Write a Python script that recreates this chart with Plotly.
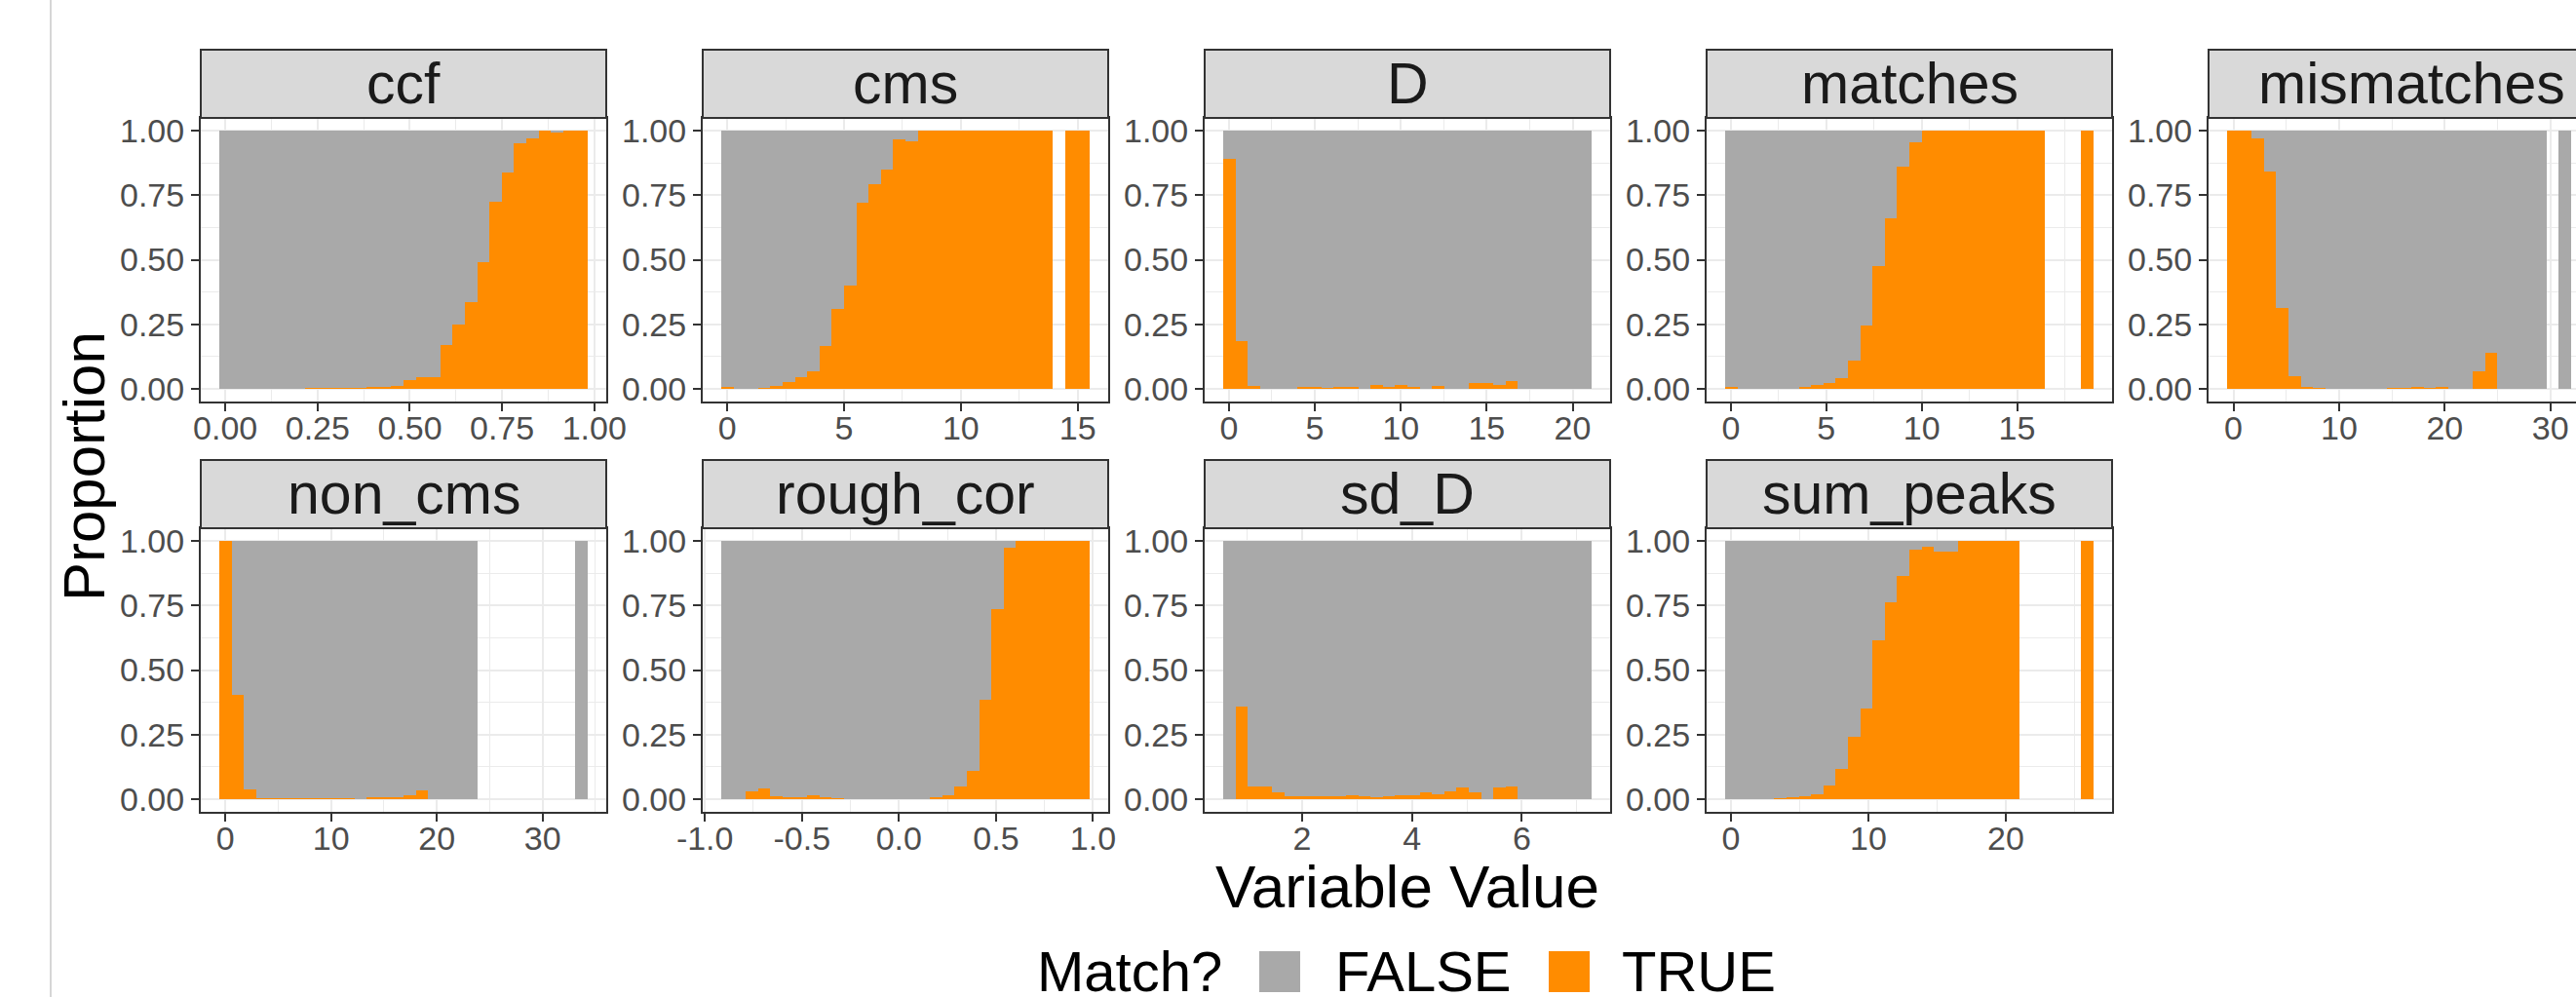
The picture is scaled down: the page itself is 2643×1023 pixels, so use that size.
import plotly.graph_objects as go

# ---------------- data ----------------
variables = ["ccf", "cms", "D", "matches", "mismatches",
             "non_cms", "rough_cor", "sd_D", "sum_peaks"]

# histogram bins (30 bins per variable): left edge of first bin and bin width
bin_start = [-0.0166, -0.263, -0.339, -0.305, -0.612, -0.58, -0.916, 0.565, -0.425]
bin_width = [0.0333, 0.526, 0.715, 0.644, 1.163, 1.162, 0.0633, 0.2235, 0.894]

# proportion of TRUE matches in each bin (None = empty bin)
ccf_true = [0.0, 0.001, 0.001, 0.001, 0.001, 0.001, 0.001, 0.002, 0.002, 0.002,
            0.003, 0.004, 0.005, 0.007, 0.01, 0.035, 0.045, 0.043, 0.17, 0.25,
            0.335, 0.49, 0.725, 0.84, 0.953, 0.97, 1.0, 0.992, 1.0, 1.0]
cms_true = [0.005, 0.001, 0.001, 0.004, 0.011, 0.024, 0.043, 0.066, 0.164, 0.309,
            0.398, 0.723, 0.793, 0.85, 0.968, 0.961, 1.0, 1.0, 1.0, 1.0,
            1.0, 1.0, 1.0, 1.0, 1.0, 1.0, 1.0, None, 1.0, 1.0]
D_true = [0.892, 0.183, 0.009, 0.001, 0.001, 0.001, 0.008, 0.006, 0.004, 0.006,
          0.006, 0.001, 0.014, 0.005, 0.015, 0.005, 0.0, 0.009, 0.0, 0.0,
          0.021, 0.021, 0.014, 0.028, 0.0, 0.0, 0.0, 0.0, 0.0, 0.0]
matches_true = [0.006, 0.001, 0.0, 0.0, 0.0, 0.001, 0.005, 0.014, 0.021, 0.04,
                0.11, 0.243, 0.477, 0.66, 0.861, 0.957, 1.0, 1.0, 1.0, 1.0,
                1.0, 1.0, 1.0, 1.0, 1.0, 1.0, None, None, None, 1.0]
mismatches_true = [1.0, 1.0, 0.972, 0.841, 0.312, 0.048, 0.008, 0.002, 0.0, 0.0,
                   0.0, 0.0, 0.0, 0.004, 0.002, 0.008, 0.003, 0.006, 0.0, 0.0,
                   0.069, 0.14, 0.0, 0.0, 0.0, 0.0, None, 0.0, None, 0.0]
non_cms_true = [1.0, 0.402, 0.037, 0.004, 0.002, 0.002, 0.002, 0.002, 0.003, 0.002,
                0.003, 0.001, 0.007, 0.008, 0.006, 0.015, 0.034, 0.0, 0.0, 0.0,
                0.0, None, None, None, None, None, None, None, None, 0.0]
rough_cor_true = [0.0, 0.0, 0.029, 0.042, 0.01, 0.008, 0.005, 0.015, 0.006, 0.003,
                  0.001, 0.001, 0.001, 0.001, 0.001, 0.001, 0.001, 0.008, 0.014, 0.048,
                  0.11, 0.383, 0.735, 0.976, 1.0, 1.0, 1.0, 1.0, 1.0, 1.0]
sd_D_true = [0.0, 0.36, 0.049, 0.048, 0.024, 0.01, 0.01, 0.01, 0.01, 0.011,
             0.014, 0.01, 0.008, 0.01, 0.015, 0.016, 0.025, 0.018, 0.028, 0.045,
             0.025, 0.0, 0.043, 0.049, 0.0, 0.0, 0.0, 0.0, 0.0, 0.0]
sum_peaks_true = [0.001, 0.001, 0.001, 0.001, 0.003, 0.006, 0.011, 0.019, 0.052, 0.117,
                  0.242, 0.349, 0.616, 0.763, 0.865, 0.967, 0.979, 0.961, 0.961, 1.0,
                  1.0, 1.0, 1.0, 1.0, None, None, None, None, None, 1.0]
true_props = [ccf_true, cms_true, D_true, matches_true, mismatches_true,
              non_cms_true, rough_cor_true, sd_D_true, sum_peaks_true]

# x-axis ticks per panel
x_tickvals = [[0, 0.25, 0.5, 0.75, 1.0], [0, 5, 10, 15], [0, 5, 10, 15, 20],
              [0, 5, 10, 15], [0, 10, 20, 30], [0, 10, 20, 30],
              [-1.0, -0.5, 0.0, 0.5, 1.0], [2, 4, 6], [0, 10, 20]]
x_ticktext = [["0.00", "0.25", "0.50", "0.75", "1.00"], ["0", "5", "10", "15"],
              ["0", "5", "10", "15", "20"], ["0", "5", "10", "15"],
              ["0", "10", "20", "30"], ["0", "10", "20", "30"],
              ["-1.0", "-0.5", "0.0", "0.5", "1.0"], ["2", "4", "6"], ["0", "10", "20"]]
y_tickvals = [0, 0.25, 0.5, 0.75, 1.0]
y_ticktext = ["0.00", "0.25", "0.50", "0.75", "1.00"]

legend_title = "Match?"
legend_labels = ["FALSE", "TRUE"]

# ---------------- style / layout ----------------
W, H = 2643, 1023
FONT = "Liberation Sans, Arial, Helvetica, sans-serif"
GRAY = "#A9A9A9"
ORANGE = "#FF8C00"
col_left = [206, 721, 1236, 1751, 2266]
panel_w = 416
strip_top = [51, 472]
strip_h = 70
panel_bottom = [412, 833]

fig = go.Figure()
fig.update_layout(template="none")
shapes = []
annotations = []

for k, var in enumerate(variables):
    r, c = divmod(k, 5)
    n = k + 1
    xa = "x" if n == 1 else f"x{n}"
    ya = "y" if n == 1 else f"y{n}"
    start, w = bin_start[k], bin_width[k]
    props = true_props[k]
    centers = [start + (i + 0.5) * w for i in range(len(props))]
    xs = [centers[i] for i, p in enumerate(props) if p is not None]
    pt = [p for p in props if p is not None]
    pf = [1 - p for p in pt]
    fig.add_trace(go.Bar(x=xs, y=pt, base=[0] * len(pt), width=w,
                         marker=dict(color=ORANGE, line=dict(width=0)),
                         xaxis=xa, yaxis=ya, showlegend=False, hoverinfo="skip"))
    fig.add_trace(go.Bar(x=xs, y=pf, base=pt, width=w,
                         marker=dict(color=GRAY, line=dict(width=0)),
                         xaxis=xa, yaxis=ya, showlegend=False, hoverinfo="skip"))

    lo = start
    hi = start + len(props) * w
    span = hi - lo
    r0, r1 = lo - 0.05 * span, hi + 0.05 * span
    left = col_left[c]
    right = left + panel_w
    if right > W:  # panel runs off the right edge of the picture
        frac = (W - left) / panel_w
        r1 = r0 + frac * (r1 - r0)
        right = W
    tv = x_tickvals[k]
    step = tv[1] - tv[0]
    minor_vals = [tv[0] - step / 2] + [t + step / 2 for t in tv]
    top = strip_top[r] + strip_h
    bottom = panel_bottom[r]

    xkey = "xaxis" if n == 1 else f"xaxis{n}"
    ykey = "yaxis" if n == 1 else f"yaxis{n}"
    fig.update_layout(**{
        xkey: dict(domain=[left / W, right / W], range=[r0, r1], anchor=ya,
                   automargin=False,
                   tickmode="array", tickvals=tv, ticktext=x_ticktext[k],
                   ticks="outside", ticklen=8, tickwidth=2, tickcolor="#333333",
                   ticklabelstandoff=-12,
                   tickfont=dict(size=34, color="#4D4D4D", family=FONT),
                   showgrid=True, gridcolor="#EBEBEB", gridwidth=2.2,
                   minor=dict(tickmode="array", tickvals=minor_vals, showgrid=True,
                              gridcolor="#EBEBEB", gridwidth=1.1),
                   showline=True, linecolor="#333333", linewidth=2, mirror=True,
                   zeroline=False, fixedrange=True),
        ykey: dict(domain=[1 - bottom / H, 1 - top / H], range=[-0.05, 1.05], anchor=xa,
                   automargin=False,
                   tickmode="array", tickvals=y_tickvals, ticktext=y_ticktext,
                   ticks="outside", ticklen=8, tickwidth=2, tickcolor="#333333",
                   tickfont=dict(size=34, color="#4D4D4D", family=FONT),
                   showgrid=True, gridcolor="#EBEBEB", gridwidth=2.2,
                   minor=dict(tickmode="array", tickvals=[0.125, 0.375, 0.625, 0.875],
                              showgrid=True, gridcolor="#EBEBEB", gridwidth=1.1),
                   showline=True, linecolor="#333333", linewidth=2,
                   mirror=(col_left[c] + panel_w <= W),
                   zeroline=False, fixedrange=True),
    })

    # facet strip
    s_top = strip_top[r]
    shapes.append(dict(type="rect", xref="paper", yref="paper",
                       x0=left / W, x1=(left + panel_w) / W,
                       y0=1 - (s_top + strip_h) / H, y1=1 - s_top / H,
                       fillcolor="#D9D9D9", line=dict(color="#333333", width=2)))
    annotations.append(dict(text=var, xref="paper", yref="paper",
                            x=(left + panel_w / 2) / W, y=1 - (s_top + strip_h / 2) / H,
                            xanchor="center", yanchor="middle", showarrow=False,
                            font=dict(size=59, color="#1A1A1A", family=FONT)))

# axis titles
annotations.append(dict(text="Proportion", xref="paper", yref="paper",
                        x=86 / W, y=1 - 478 / H, textangle=-90,
                        xanchor="center", yanchor="middle", showarrow=False,
                        font=dict(size=60, color="#000000", family=FONT)))
annotations.append(dict(text="Variable Value", xref="paper", yref="paper",
                        x=1444 / W, y=1 - 909 / H,
                        xanchor="center", yanchor="middle", showarrow=False,
                        font=dict(size=62, color="#000000", family=FONT)))

# manual legend at the bottom
leg_y = 996
annotations.append(dict(text=legend_title, xref="paper", yref="paper",
                        x=1062 / W, y=1 - leg_y / H, xanchor="left", yanchor="middle",
                        showarrow=False, font=dict(size=58, color="#000000", family=FONT)))
key_x = [1292, 1589]
lab_x = [1368, 1662]
for col, kx, lx, lab in zip([GRAY, ORANGE], key_x, lab_x, legend_labels):
    shapes.append(dict(type="rect", xref="paper", yref="paper",
                       x0=kx / W, x1=(kx + 42) / W, y0=1 - 1018 / H, y1=1 - 976 / H,
                       fillcolor=col, line=dict(width=0)))
    annotations.append(dict(text=lab, xref="paper", yref="paper",
                            x=lx / W, y=1 - leg_y / H, xanchor="left", yanchor="middle",
                            showarrow=False, font=dict(size=58, color="#000000", family=FONT)))

# thin page edge line on the left
shapes.append(dict(type="line", xref="paper", yref="paper", x0=52 / W, x1=52 / W,
                   y0=0, y1=1, line=dict(color="#C8C8C8", width=1.5)))

fig.update_layout(width=W, height=H, margin=dict(l=0, r=0, t=0, b=0, pad=0),
                  autosize=False,
                  paper_bgcolor="white", plot_bgcolor="white",
                  barmode="overlay", bargap=0, showlegend=False,
                  shapes=shapes, annotations=annotations,
                  font=dict(family=FONT))

fig.write_html("out.html")
